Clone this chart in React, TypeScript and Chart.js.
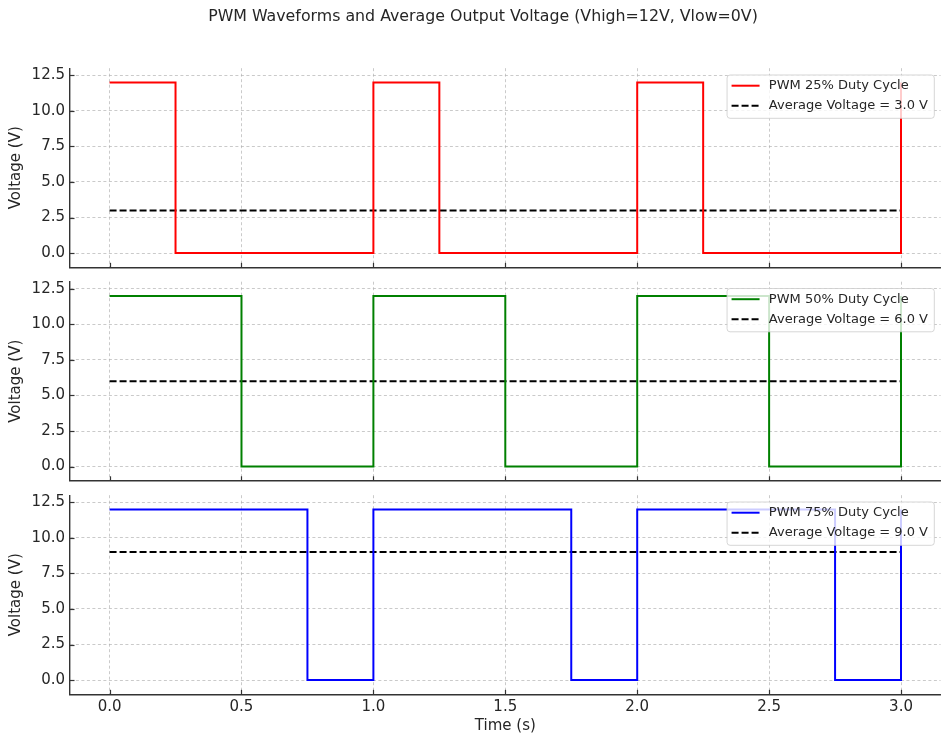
import React, { useEffect, useRef } from "react";
import { Chart, registerables } from "chart.js";
Chart.register(...registerables);

const TITLE = "PWM Waveforms and Average Output Voltage (Vhigh=12V, Vlow=0V)";
const X_LABEL = "Time (s)";
const Y_LABEL = "Voltage (V)";
const X_TICKS = [0, 0.5, 1.0, 1.5, 2.0, 2.5, 3.0];
const Y_TICKS = [0, 2.5, 5.0, 7.5, 10.0, 12.5];
const DUTY_LABELS = ["PWM 25% Duty Cycle", "PWM 50% Duty Cycle", "PWM 75% Duty Cycle"];
const EDGES_25 = [0, 0.25, 1.0, 1.25, 2.0, 2.25, 3.0];
const EDGES_50 = [0, 0.5, 1.0, 1.5, 2.0, 2.5, 3.0];
const EDGES_75 = [0, 0.75, 1.0, 1.75, 2.0, 2.75, 3.0];
const LEVELS = [12, 0, 12, 0, 12, 0, 12];
const AVG_VOLTAGES = [3.0, 6.0, 9.0];
const AVG_SPAN = [0, 3.0];
const COLORS = ["#ff0000", "#008000", "#0000ff"];
const EDGES = [EDGES_25, EDGES_50, EDGES_75];

const FONT = '"DejaVu Sans", sans-serif';
const TEXT = "#262626";
const SPINE = "#333333";

const axisPlugin = {
  id: "inwardTicksLegend",
  afterDatasetsDraw(chart: any) {
    const { ctx, chartArea, scales } = chart;
    ctx.save();
    ctx.strokeStyle = SPINE;
    ctx.lineWidth = 1.2;
    ctx.setLineDash([]);
    for (const v of Y_TICKS) {
      const y = Math.round(scales.y.getPixelForValue(v)) + 0.5;
      ctx.beginPath();
      ctx.moveTo(chartArea.left, y);
      ctx.lineTo(chartArea.left + 4.5, y);
      ctx.stroke();
    }
    for (const v of X_TICKS) {
      const x = Math.round(scales.x.getPixelForValue(v)) + 0.5;
      ctx.beginPath();
      ctx.moveTo(x, chartArea.bottom);
      ctx.lineTo(x, chartArea.bottom - 4.5);
      ctx.stroke();
    }
    // legend
    const items = chart.data.datasets.map((ds: any) => ({
      label: ds.label,
      color: ds.borderColor,
      dash: ds.borderDash || [],
    }));
    ctx.font = "13px " + FONT;
    const textW = Math.max(...items.map((it: any) => ctx.measureText(it.label).width));
    const padL = 4.5, handle = 28, gap = 9.3, padR = 6.3;
    const w = padL + handle + gap + textW + padR;
    const rowH = 20, padT = 10.7, padB = 12.6;
    const h = padT + rowH * (items.length - 1) + padB;
    const x0 = chartArea.right - 6.3 - w;
    const y0 = chartArea.top + 6.8;
    ctx.beginPath();
    if (ctx.roundRect) ctx.roundRect(x0, y0, w, h, 3);
    else ctx.rect(x0, y0, w, h);
    ctx.fillStyle = "rgba(255,255,255,0.8)";
    ctx.fill();
    ctx.strokeStyle = "rgba(204,204,204,0.8)";
    ctx.lineWidth = 1;
    ctx.stroke();
    items.forEach((it: any, i: number) => {
      const cy = y0 + padT + i * rowH;
      ctx.beginPath();
      ctx.setLineDash(it.dash);
      ctx.strokeStyle = it.color;
      ctx.lineWidth = 2;
      ctx.moveTo(x0 + padL, cy);
      ctx.lineTo(x0 + padL + handle, cy);
      ctx.stroke();
      ctx.setLineDash([]);
      ctx.fillStyle = TEXT;
      ctx.textAlign = "left";
      ctx.textBaseline = "middle";
      ctx.fillText(it.label, x0 + padL + handle + gap, cy);
    });
    ctx.restore();
  },
};

const titlePlugin = {
  id: "figTitle",
  afterDraw(chart: any) {
    if (!chart.options.plugins.figTitle?.show) return;
    const { ctx } = chart;
    ctx.save();
    ctx.font = "15.8px " + FONT;
    ctx.fillStyle = TEXT;
    ctx.textAlign = "center";
    ctx.textBaseline = "middle";
    ctx.fillText(TITLE, 483, 16.5);
    ctx.restore();
  },
};

type PanelProps = {
  idx: number;
  top: number;
  height: number;
  padTop: number;
  padBottom: number;
  showX: boolean;
  showTitle: boolean;
};

function Panel({ idx, top, height, padTop, padBottom, showX, showTitle }: PanelProps) {
  const ref = useRef<HTMLCanvasElement>(null);
  useEffect(() => {
    if (!ref.current) return;
    const wave = EDGES[idx].map((t, i) => ({ x: t, y: LEVELS[i] }));
    const avg = AVG_SPAN.map((t) => ({ x: t, y: AVG_VOLTAGES[idx] }));
    const chart = new Chart(ref.current, {
      type: "line",
      data: {
        datasets: [
          {
            label: DUTY_LABELS[idx],
            data: wave,
            borderColor: COLORS[idx],
            backgroundColor: COLORS[idx],
            borderWidth: 2,
            pointRadius: 0,
            stepped: true,
            fill: false,
          },
          {
            label: `Average Voltage = ${AVG_VOLTAGES[idx].toFixed(1)} V`,
            data: avg,
            borderColor: "#000000",
            backgroundColor: "#000000",
            borderWidth: 2,
            borderDash: [7, 3],
            pointRadius: 0,
            fill: false,
          },
        ],
      },
      options: {
        animation: false,
        responsive: false,
        layout: { padding: { top: padTop, bottom: padBottom, left: 0, right: 9.4 } },
        plugins: {
          legend: { display: false },
          tooltip: { enabled: false },
          title: { display: false },
          figTitle: { show: showTitle },
        } as any,
        scales: {
          x: {
            type: "linear",
            min: -0.15,
            max: 3.15,
            afterBuildTicks: (s: any) => {
              s.ticks = X_TICKS.map((v) => ({ value: v }));
            },
            afterFit: (s: any) => {
              s.height = showX ? 50.7 : 0;
              s.paddingLeft = 0;
              s.paddingRight = 0;
            },
            grid: {
              color: "rgba(176,176,176,0.75)",
              lineWidth: 0.9,
              drawTicks: false,
            },
            border: { display: true, color: SPINE, width: 1.4, dash: [3, 2.5] },
            ticks: {
              display: showX,
              padding: 3.5,
              color: TEXT,
              font: { family: FONT, size: 15 },
              callback: (v: any) => Number(v).toFixed(1),
              maxRotation: 0,
            },
            title: {
              display: showX,
              text: X_LABEL,
              color: TEXT,
              font: { family: FONT, size: 15 },
              padding: { top: 0, bottom: 10 },
            },
          },
          y: {
            type: "linear",
            min: -1,
            max: 13,
            afterBuildTicks: (s: any) => {
              s.ticks = Y_TICKS.map((v) => ({ value: v }));
            },
            afterFit: (s: any) => {
              s.width = 70;
              s.paddingTop = 0;
              s.paddingBottom = 0;
            },
            grid: {
              color: "rgba(176,176,176,0.75)",
              lineWidth: 0.9,
              drawTicks: false,
            },
            border: { display: true, color: SPINE, width: 1.4, dash: [3, 2.5] },
            ticks: {
              padding: 5,
              color: TEXT,
              font: { family: FONT, size: 15 },
              callback: (v: any) => Number(v).toFixed(1),
            },
            title: {
              display: true,
              text: Y_LABEL,
              color: TEXT,
              font: { family: FONT, size: 15 },
              padding: { top: 7, bottom: 0 },
            },
          },
        },
      },
      plugins: [axisPlugin, titlePlugin],
    } as any);
    return () => chart.destroy();
  }, [idx, padTop, padBottom, showX, showTitle]);
  return (
    <div style={{ position: "absolute", left: 0, top, width: 950, height }}>
      <canvas ref={ref} width={950} height={height} style={{ display: "block", width: 950, height }} />
    </div>
  );
}

export default function App() {
  return (
    <div style={{ position: "absolute", left: 0, top: 0, width: 950, height: 745, background: "#ffffff" }}>
      <Panel idx={0} top={0} height={275} padTop={68.2} padBottom={7.7} showX={false} showTitle={true} />
      <Panel idx={1} top={275} height={214} padTop={6.7} padBottom={8.2} showX={false} showTitle={false} />
      <Panel idx={2} top={489} height={256} padTop={6.2} padBottom={0} showX={true} showTitle={false} />
    </div>
  );
}
